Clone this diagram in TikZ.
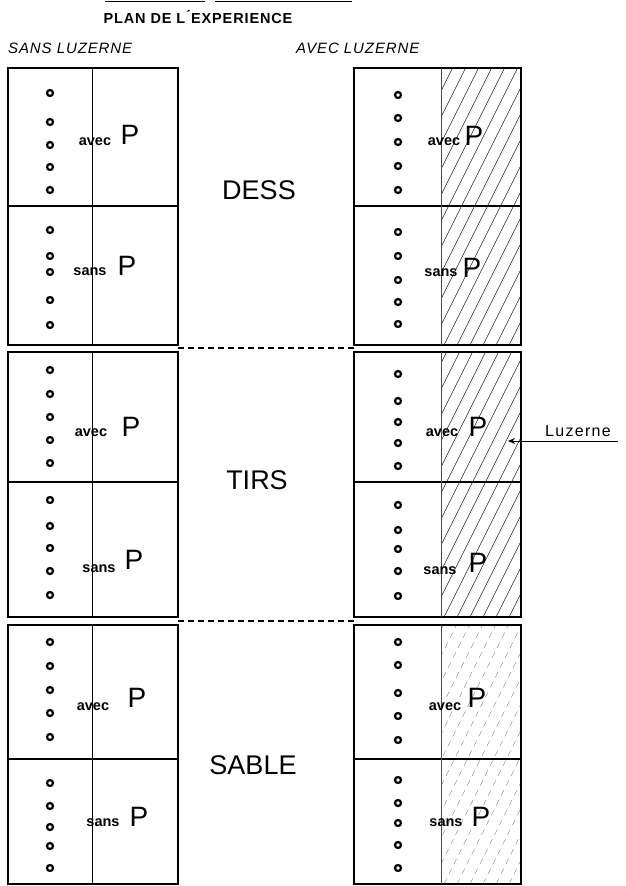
\documentclass[tikz,border=0pt]{standalone}
\usepackage{fontspec}
\setmainfont{Liberation Sans}
\usetikzlibrary{arrows.meta}
\begin{document}
\begin{tikzpicture}[x=1pt,y=-1pt,
  frame/.style={line width=1.6pt},
  thin/.style={line width=0.6pt},
  hatch/.style={line width=0.45pt},
  hatchlight/.style={line width=0.4pt,black!55,dash pattern=on 6pt off 5pt},
  dot/.style={circle,draw,line width=2.2pt,fill=white,inner sep=0pt,minimum size=6pt},
  small/.style={font=\bfseries\fontsize{14.5}{15}\selectfont,inner sep=0pt},
  bigP/.style={font=\fontsize{28}{28}\selectfont,inner sep=0pt},
  big/.style={font=\fontsize{27}{28}\selectfont,inner sep=0pt},
  head/.style={font=\itshape\addfontfeature{LetterSpace=6}\fontsize{15}{16}\selectfont,inner sep=0pt},
  dashline/.style={line width=1.2pt,dash pattern=on 6pt off 4pt}]
\useasboundingbox (0,0) rectangle (626,886);
% title
\draw[line width=0.9pt] (105,1) -- (205,1) (215,1) -- (352,1);
\node[font=\bfseries\addfontfeature{LetterSpace=6}\fontsize{14.5}{15}\selectfont,inner sep=0pt] (title) at (198,17) {PLAN DE L\'{}EXPERIENCE};
\node[head,anchor=west] (hl) at (8,48) {SANS LUZERNE};
\node[head,anchor=west] (hr) at (296,48) {AVEC LUZERNE};
% hatching of right halves
\foreach \t/\b/\s in {68/345/hatch,352/617/hatch,625/884/hatchlight}{
  \begin{scope}
    \clip (441,\t) rectangle (521,\b);
    \foreach \k in {0,...,30}{
      \draw[\s] ({441-140+13*\k},\b) -- ({441-140+13*\k+140},{\b-280});
    }
  \end{scope}
}
% blocks
\foreach \t/\m/\b in {68/206/345,352/482/617,625/759/884}{
  \draw[frame] (8,\t) rectangle (178,\b);
  \draw[frame] (8,\m) -- (178,\m);
  \draw[thin] (92,\t) -- (92,\b);
  \draw[frame] (354,\t) rectangle (521,\b);
  \draw[frame] (354,\m) -- (521,\m);
  \draw[thin,black!70] (441,\t) -- (441,\b);
}
% dashed links between blocks
\coordinate (d1l) at (178,348); \coordinate (d1r) at (354,348);
\coordinate (d2l) at (178,621); \coordinate (d2r) at (354,621);
\draw[dashline] (d1l) -- (d1r);
\draw[dashline] (d2l) -- (d2r);
% dots
\foreach \y in {93,122,145,167,190,230,256,272,300,325,370,394,417,440,463,500,526,548,571,595,642,666,690,713,737,783,806,827,846,868}
  \node[dot] at (50,\y) {};
\foreach \y in {95,118,142,166,190,232,256,280,302,324,374,401,422,443,466,505,530,549,571,596,642,665,693,716,740,780,803,823,845,868}
  \node[dot] at (398,\y) {};
% cell labels
\node[small] (a1) at (95,142) {avec};  \node[bigP] (p1) at (130,135) {P};
\node[small] (s1) at (90,272) {sans};  \node[bigP] (p2) at (127,266) {P};
\node[small] (a2) at (444,142) {avec}; \node[bigP] (p3) at (474,136) {P};
\node[small] (s2) at (441,273) {sans}; \node[bigP] (p4) at (472,268) {P};
\node[small] (a3) at (91,433) {avec};  \node[bigP] (p5) at (131,427) {P};
\node[small] (s3) at (99,569) {sans};  \node[bigP] (p6) at (134,560) {P};
\node[small] (a4) at (442,433) {avec}; \node[bigP] (p7) at (478,427) {P};
\node[small] (s4) at (440,571) {sans}; \node[bigP] (p8) at (478,563) {P};
\node[small] (a5) at (93,707) {avec};  \node[bigP] (p9) at (137,698) {P};
\node[small] (s5) at (103,823) {sans}; \node[bigP] (p10) at (139,817) {P};
\node[small] (a6) at (445,707) {avec}; \node[bigP] (p11) at (477,698) {P};
\node[small] (s6) at (446,823) {sans}; \node[bigP] (p12) at (481,817) {P};
% soil labels
\node[big] (dess) at (259,190) {DESS};
\node[big] (tirs) at (257,480) {TIRS};
\node[big] (sable) at (253,765) {SABLE};
% Luzerne pointer
\node[font=\addfontfeature{LetterSpace=8}\fontsize{16}{17}\selectfont,inner sep=0pt,anchor=base west] (luz) at (545,436) {Luzerne};
\coordinate (luzend) at (618,441);
\coordinate (luztip) at (508,441);
\draw[line width=1pt,-{Stealth[length=7pt,width=6pt]}] (luzend) -- (luztip);
\end{tikzpicture}
\end{document}
